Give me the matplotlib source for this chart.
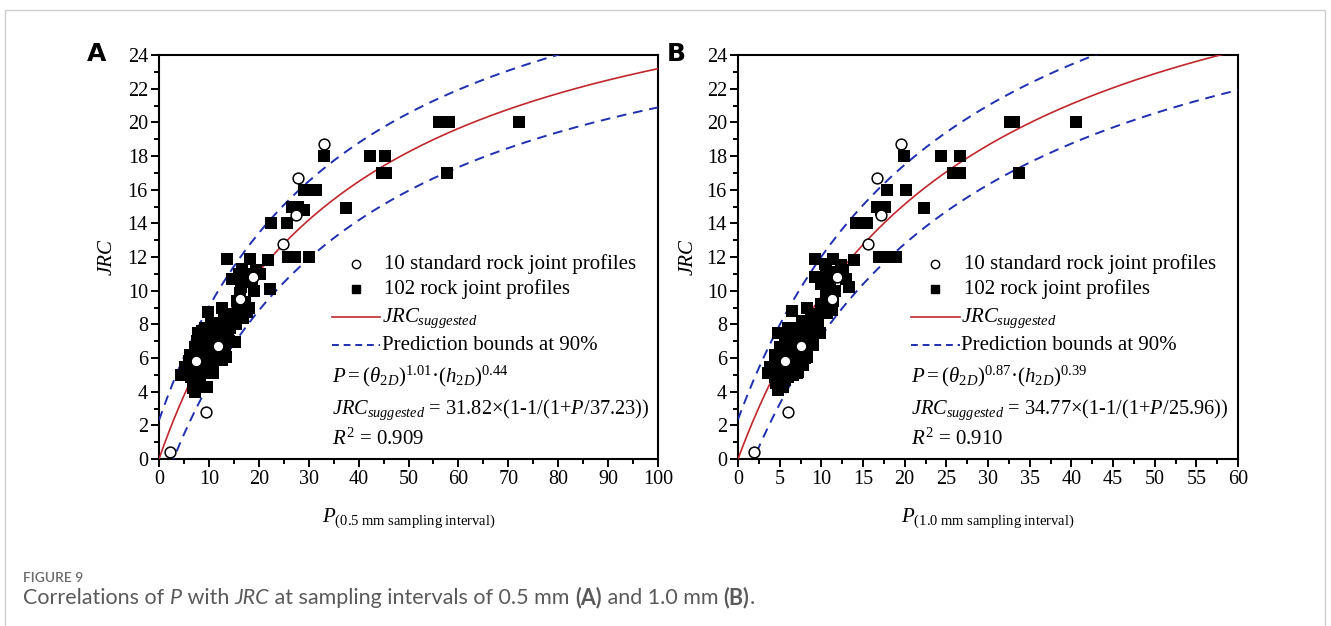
import numpy as np
import matplotlib
matplotlib.use("Agg")
import matplotlib.pyplot as plt
from matplotlib.ticker import MultipleLocator
from matplotlib.patches import Rectangle

plt.rcParams['font.family'] = ['Liberation Serif', 'DejaVu Serif']
plt.rcParams['mathtext.fontset'] = 'custom'
plt.rcParams['mathtext.rm'] = 'Liberation Serif'
plt.rcParams['mathtext.it'] = 'Liberation Serif:italic'
plt.rcParams['mathtext.bf'] = 'Liberation Serif:bold'

# ---- data ----
# panel A: P at 0.5 mm sampling interval
std_p_a = [2.3, 9.4, 7.5, 11.8, 16.2, 18.8, 24.9, 27.4, 27.8, 33.1]
std_jrc = [0.4, 2.8, 5.8, 6.7, 9.5, 10.8, 12.8, 14.5, 16.7, 18.7]

rock_a = [
    (33.1, 18), (29.1, 16), (31.5, 16), (26.6, 15), (27.8, 15), (29.1, 14.8),
    (22.5, 14), (25.6, 14), (37.4, 14.9), (42.3, 18), (45.3, 18), (44.6, 17),
    (45.4, 17), (56.1, 20), (58.2, 20), (72.2, 20), (57.7, 17), (25.8, 12),
    (27.3, 12), (30.1, 12), (21.9, 11.8),
    (13.6, 11.9), (18.2, 11.9), (16.6, 11.3), (17.9, 11.0), (20.2, 11.0),
    (14.6, 10.7), (18.6, 10.5), (22.2, 10.1), (16.2, 9.85), (17.2, 9.35),
    (15.9, 8.95), (17.6, 8.75), (9.9, 8.75), (12.6, 8.95), (11.6, 8.06),
    (13.6, 7.96), (14.2, 7.77), (12.2, 7.56), (10.9, 7.27), (7.9, 7.47),
    (9.2, 7.77), (15.2, 6.97), (13.2, 6.48), (13.4, 6.04), (7.2, 6.67),
    (6.2, 6.18), (8.2, 6.28), (9.6, 6.48), (10.2, 5.88), (8.9, 5.69),
    (10.9, 5.48), (5.2, 5.48), (5.9, 5.09), (4.5, 4.99), (8.9, 5.09),
    (10.9, 5.09), (7.2, 4.69), (6.9, 4.2), (7.2, 4.0), (8.2, 4.6), (9.6, 4.3),
    (10.5, 7.0), (11.2, 6.6), (12.0, 7.0), (9.8, 7.0), (8.6, 6.9), (7.6, 7.0),
    (8.0, 5.9), (9.2, 6.0), (11.6, 6.2), (12.4, 6.4), (6.6, 5.6), (7.5, 5.3),
    (8.2, 5.0), (9.6, 5.3), (6.4, 4.9), (5.6, 5.2), (7.8, 4.5), (12.8, 7.4),
    (13.8, 7.3), (14.6, 8.4), (15.6, 9.4), (16.4, 10.2), (17.0, 10.8),
    (19.4, 11.2), (15.4, 8.0), (16.8, 8.4), (11.8, 7.8), (10.4, 8.1),
    (9.4, 7.4), (14.0, 7.0), (12.6, 5.9), (10.0, 6.2), (8.6, 7.6), (7.0, 6.0),
    (6.0, 5.8), (16.0, 11.0), (18.0, 9.0), (15.4, 8.6), (19.0, 10.0), (13.0, 8.6),
]

# panel B: P at 1.0 mm sampling interval
std_p_b = [1.9, 6.0, 5.6, 7.5, 11.3, 11.9, 15.6, 17.2, 16.7, 19.5]

rock_b = [
    (19.9, 18), (17.9, 16), (20.1, 16), (16.7, 15), (17.6, 15), (17.2, 14.8),
    (14.1, 14), (15.5, 14), (22.3, 14.9), (24.4, 18), (26.6, 18), (25.8, 17),
    (26.6, 17), (32.6, 20), (33.1, 20), (40.5, 20), (33.7, 17), (16.9, 12),
    (17.5, 12), (19.0, 12), (13.9, 11.8),
    (9.2, 11.9), (11.4, 11.9), (12.3, 11.5), (10.5, 11.2), (10.7, 10.9),
    (11.7, 11.1), (9.2, 10.8), (11.0, 10.5), (12.9, 10.7), (13.3, 10.2),
    (10.5, 9.85), (10.3, 8.95), (11.3, 8.85), (10.7, 8.65), (6.5, 8.8),
    (8.3, 8.95), (7.7, 8.06), (8.4, 7.96), (9.6, 7.96), (9.0, 7.56),
    (9.8, 7.47), (4.8, 7.47), (6.0, 7.27), (6.8, 7.56), (8.6, 6.97),
    (9.0, 6.77), (8.3, 6.08), (5.0, 6.67), (4.4, 6.18), (5.9, 6.38),
    (6.5, 5.98), (7.1, 5.69), (5.9, 5.48), (7.2, 5.19), (3.8, 5.48),
    (3.6, 5.09), (4.4, 4.89), (6.0, 4.89), (7.1, 5.09), (4.6, 4.5),
    (4.8, 4.1), (5.4, 4.3),
    (6.2, 7.0), (7.0, 7.0), (7.6, 7.2), (6.6, 6.6), (7.4, 6.4), (5.4, 6.0),
    (6.8, 6.2), (7.8, 6.7), (5.2, 5.7), (6.2, 5.4), (6.6, 5.0), (5.0, 5.1),
    (8.0, 7.6), (8.8, 8.3), (9.4, 8.6), (10.0, 9.2), (10.8, 9.6), (11.6, 10.0),
    (12.0, 10.8), (10.0, 10.4), (10.6, 9.2), (9.2, 8.2), (7.2, 7.8), (6.0, 7.8),
    (5.6, 6.9), (4.6, 5.6), (5.6, 4.7), (8.0, 6.0), (7.8, 5.6), (12.6, 11.2),
    (10.4, 11.6), (8.8, 7.2), (6.4, 6.4), (5.2, 6.3), (11.2, 9.2), (11.4, 9.4),
    (7.8, 8.2), (8.2, 7.2), (6.8, 5.4),
]

# fitted models JRC = a*(1-1/(1+P/b)), bounds offset
fit_a = (31.82, 37.23)
fit_b = (34.77, 25.96)
bound_a = 2.3
bound_b = 2.35

red = '#c0272d'
blue = '#1f2fb0'

fig = plt.figure(figsize=(13.31, 6.26), dpi=100)
W, H = 1331, 626

# light frame around figure
fig.patches.append(Rectangle((5 / W, -0.1), 1320 / W, 1.1 - 10 / H,
                             transform=fig.transFigure, fill=False,
                             edgecolor='#cfcfcf', linewidth=1.0))


def make_panel(left, right, xmax, xmajor, std_p, rock, fit, bnd,
               eq1, eq2, r2, xlab, letter, ylab_x):
    ax = fig.add_axes([left / W, (H - 459) / H, (right - left) / W, 404 / H])
    ax.set_xlim(0, xmax)
    ax.set_ylim(0, 24)
    ax.xaxis.set_major_locator(MultipleLocator(xmajor))
    ax.xaxis.set_minor_locator(MultipleLocator(xmajor / 2))
    ax.yaxis.set_major_locator(MultipleLocator(2))
    ax.yaxis.set_minor_locator(MultipleLocator(1))
    ax.tick_params(which='both', direction='out', width=1.4, labelsize=14.5,
                   top=False, right=False, pad=2)
    ax.tick_params(which='major', length=6)
    ax.tick_params(which='minor', length=3.5)
    for s in ax.spines.values():
        s.set_linewidth(1.5)

    a, b = fit
    p = np.linspace(0, xmax, 400)
    jrc = a * (1 - 1 / (1 + p / b))
    ax.plot(p, jrc, color=red, lw=1.2, zorder=3)
    ax.plot(p, jrc + bnd, color=blue, lw=1.4, ls=(0, (5, 3.5)), zorder=3)
    ax.plot(p, jrc - bnd, color=blue, lw=1.4, ls=(0, (5, 3.5)), zorder=3)

    rx = [r[0] for r in rock]
    ry = [r[1] for r in rock]
    ax.scatter(rx, ry, marker='s', s=72, color='black', linewidths=0, zorder=4)
    ax.scatter(std_p, std_jrc, marker='o', s=60, facecolor='white',
               edgecolor='black', linewidths=1.1, zorder=5)

    ax.set_xlabel(xlab, fontsize=15, labelpad=12)
    ax.set_ylabel('JRC', fontsize=15, style='italic')
    ax.yaxis.set_label_coords(ylab_x, 0.5)

    # legend block drawn by hand
    tr = ax.transAxes
    fs = 15
    ax.plot([0.394], [0.483], marker='o', ms=6, mfc='white', mec='black',
            mew=1.0, transform=tr, clip_on=False)
    ax.text(0.451, 0.483, '10 standard rock joint profiles', fontsize=fs,
            va='center', transform=tr)
    ax.plot([0.394], [0.421], marker='s', ms=5.5, color='black',
            transform=tr, clip_on=False)
    ax.text(0.451, 0.421, '102 rock joint profiles', fontsize=fs,
            va='center', transform=tr)
    ax.plot([0.346, 0.443], [0.352, 0.352], color=red, lw=1.2, transform=tr)
    ax.text(0.446, 0.339, r'$JRC_{suggested}$', fontsize=fs,
            va='baseline', transform=tr)
    ax.plot([0.346, 0.443], [0.282, 0.282], color=blue, lw=1.4,
            ls=(0, (3.5, 2.5)), transform=tr)
    ax.text(0.446, 0.282, 'Prediction bounds at 90%', fontsize=fs,
            va='center', transform=tr)
    ax.text(0.346, 0.190, eq1, fontsize=fs, va='baseline', transform=tr)
    ax.text(0.346, 0.111, eq2, fontsize=14.7, va='baseline', transform=tr)
    ax.text(0.346, 0.035, r2, fontsize=fs, va='baseline', transform=tr)

    fig.text((left - 62) / W, 1 - 54 / H, letter, fontsize=18,
             fontweight='bold', family='DejaVu Sans', va='center', ha='center')
    return ax


make_panel(159, 658, 100, 10, std_p_a, rock_a, fit_a, bound_a,
           r'$P = (\theta_{2D})^{1.01}$·$(h_{2D})^{0.44}$',
           r'$JRC_{suggested}$ = 31.82×(1-1/(1+$P$/37.23))',
           r'$R^2$ = 0.909',
           r'$P_{\mathrm{(0.5\ mm\ sampling\ interval)}}$', 'A', -0.085)
make_panel(738, 1238, 60, 5, std_p_b, rock_b, fit_b, bound_b,
           r'$P = (\theta_{2D})^{0.87}$·$(h_{2D})^{0.39}$',
           r'$JRC_{suggested}$ = 34.77×(1-1/(1+$P$/25.96))',
           r'$R^2$ = 0.910',
           r'$P_{\mathrm{(1.0\ mm\ sampling\ interval)}}$', 'B', -0.08)

# caption
fig.text(23 / W, 1 - 578 / H, 'FIGURE 9', fontsize=10, color='#6b6b6b',
         family='Lato', fontweight='semibold', va='center')

renderer = fig.canvas.get_renderer()
parts = [('Correlations of ', {}), ('P', {'style': 'italic'}),
         (' with ', {}), ('JRC', {'style': 'italic'}),
         (' at sampling intervals of 0.5 mm ', {}), ('(A)', {'fontweight': 'bold'}),
         (' and 1.0 mm ', {}), ('(B)', {'fontweight': 'bold'}), ('.', {})]
x = 23 / W
for s, st in parts:
    t = fig.text(x, 1 - 598 / H, s, fontsize=15.5, color='#5a5a5a',
                 family='Lato', va='center', **st)
    bb = t.get_window_extent(renderer)
    x += bb.width / fig.bbox.width

fig.savefig('out.png', dpi=100)
